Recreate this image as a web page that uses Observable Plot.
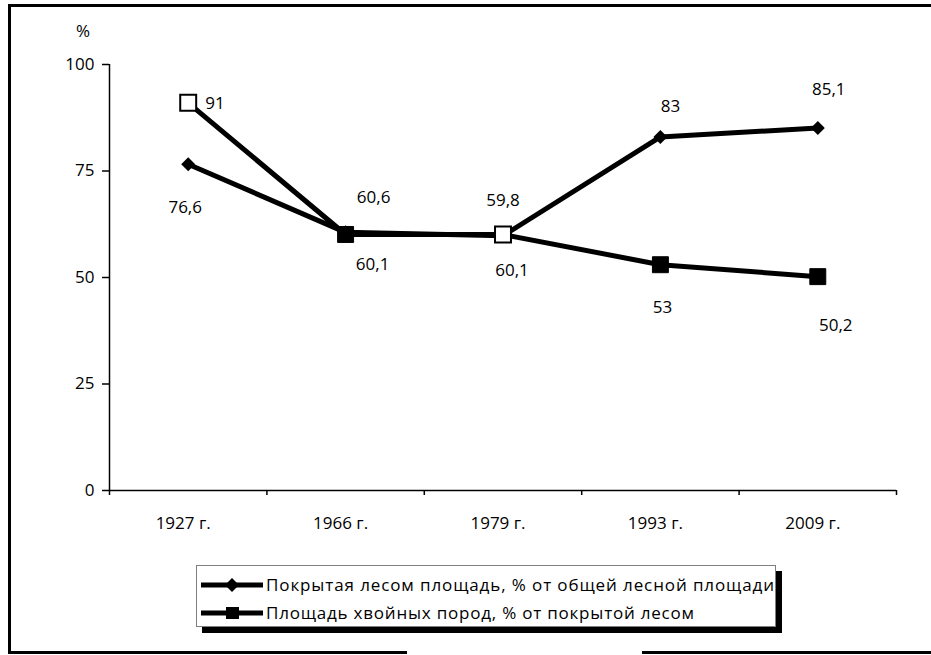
<!DOCTYPE html>
<html><head><meta charset="utf-8">
<script src="https://cdn.jsdelivr.net/npm/d3@7"></script>
<script src="https://cdn.jsdelivr.net/npm/@observablehq/plot@0.6"></script>
<style>
body{margin:0;background:#fff;}
#wrap{position:relative;width:931px;height:655px;overflow:hidden;font-family:"Open Sans",sans-serif;background:#fff;}
#chart{position:absolute;left:0;top:0;}
.bar{position:absolute;background:#000;}
#pct{position:absolute;left:73px;top:21px;width:20px;text-align:center;font-size:17px;line-height:20px;}
#legend{position:absolute;left:196px;top:565px;width:580px;height:62px;border:1px solid #7f7f7f;box-shadow:6px 6px 0 #000;background:#fff;box-sizing:border-box;}
#legend svg{position:absolute;left:0;top:0;}
</style></head><body>
<div id="wrap">
  <div id="chart"></div>
  <div id="pct">%</div>
  <div id="legend"></div>
  <div class="bar" style="left:8px;top:4px;width:923px;height:3px"></div>
  <div class="bar" style="left:8px;top:4px;width:3px;height:650px"></div>
  <div class="bar" style="left:8px;top:651px;width:399px;height:3px"></div>
  <div class="bar" style="left:642px;top:651px;width:289px;height:3px"></div>
</div>
<script>
// ---- data ----
const years = ["1927 г.", "1966 г.", "1979 г.", "1993 г.", "2009 г."];
const forestCover = [76.6, 60.6, 59.8, 83, 85.1];
const coniferShare = [91, 60.1, 60.1, 53, 50.2];
const seriesNames = [
  "Покрытая лесом площадь, % от общей лесной площади",
  "Площадь хвойных пород, % от покрытой лесом"
];
const yTicks = [0, 25, 50, 75, 100];
// conifer markers drawn unfilled in the original
const hollowConifer = ["1927 г.", "1979 г."];
// label placement (dx, dy, anchor) per point
const forestLabelPos = [[-3, 43, "middle"], [28, -35, "middle"], [0, -35, "middle"], [10, -30, "middle"], [11, -38, "middle"]];
const coniferLabelPos = [[17, 1, "start"], [27, 30, "middle"], [9, 36, "middle"], [2, 43, "middle"], [18, 49, "middle"]];

const forestRows = years.map((y, i) => ({i, year: y, v: forestCover[i]}));
const coniferRows = years.map((y, i) => ({i, year: y, v: coniferShare[i]}));
const bounds = d3.range(years.length + 1).map(k => k - 0.5);
const fmt = v => String(v).replace(".", ",");

const labelMarks = (rows, pos) => rows.map((r, k) =>
  Plot.text([r], {x: "i", y: "v", text: d => fmt(d.v), dx: pos[k][0], dy: pos[k][1], textAnchor: pos[k][2], fill: "#000"}));

const chart = Plot.plot({
  width: 931, height: 540,
  marginLeft: 109, marginRight: 35, marginTop: 64, marginBottom: 50,
  style: {fontFamily: "'Open Sans', sans-serif", fontSize: "17px", color: "#000", background: "transparent"},
  x: {type: "linear", domain: [-0.5, years.length - 0.5]},
  y: {domain: [0, 100]},
  marks: [
    Plot.axisY({ticks: yTicks, tickSize: 7, tickPadding: 8, label: null, strokeWidth: 1.5}),
    Plot.axisX({ticks: bounds, tickSize: 5, tickFormat: () => "", label: null, strokeWidth: 1.5}),
    Plot.axisX({ticks: d3.range(years.length), tickSize: 0, tickPadding: 26, tickFormat: i => years[i], dx: -5, label: null}),
    Plot.ruleY([0], {stroke: "#000", strokeWidth: 1.5}),
    Plot.ruleX([-0.5], {stroke: "#000", strokeWidth: 1.5}),
    Plot.line(forestRows, {x: "i", y: "v", stroke: "#000", strokeWidth: 5}),
    Plot.line(coniferRows, {x: "i", y: "v", stroke: "#000", strokeWidth: 5}),
    Plot.dot(forestRows, {x: "i", y: "v", symbol: "diamond2", r: 6.3, fill: "#000", stroke: "none"}),
    Plot.dot(coniferRows.filter(d => !hollowConifer.includes(d.year)), {x: "i", y: "v", symbol: "square", r: 9, fill: "#000", stroke: "#000", strokeWidth: 1}),
    Plot.dot(coniferRows.filter(d => hollowConifer.includes(d.year)), {x: "i", y: "v", symbol: "square", r: 9, fill: "#fff", stroke: "#000", strokeWidth: 2}),
    ...labelMarks(forestRows, forestLabelPos),
    ...labelMarks(coniferRows, coniferLabelPos)
  ]
});
document.getElementById("chart").appendChild(chart);

// ---- legend ----
const lg = d3.select("#legend").append("svg").attr("width", 580).attr("height", 62);
const rowsY = [19, 47];
const textLens = [508, 428];
seriesNames.forEach((name, k) => {
  const g = lg.append("g").attr("transform", `translate(0,${rowsY[k]})`);
  g.append("line").attr("x1", 4).attr("x2", 66).attr("y1", 0).attr("y2", 0).attr("stroke", "#000").attr("stroke-width", 5);
  if (k === 0) g.append("path").attr("d", "M35,-7L42,0L35,7L28,0Z").attr("fill", "#000");
  else g.append("rect").attr("x", 29).attr("y", -6).attr("width", 13).attr("height", 12).attr("fill", "#000");
  g.append("text").attr("x", 69).attr("y", 0).attr("dy", "0.35em").attr("font-size", 17)
    .attr("font-family", "'Open Sans', sans-serif").attr("textLength", textLens[k]).attr("lengthAdjust", "spacing").text(name);
});
</script>
</body></html>
